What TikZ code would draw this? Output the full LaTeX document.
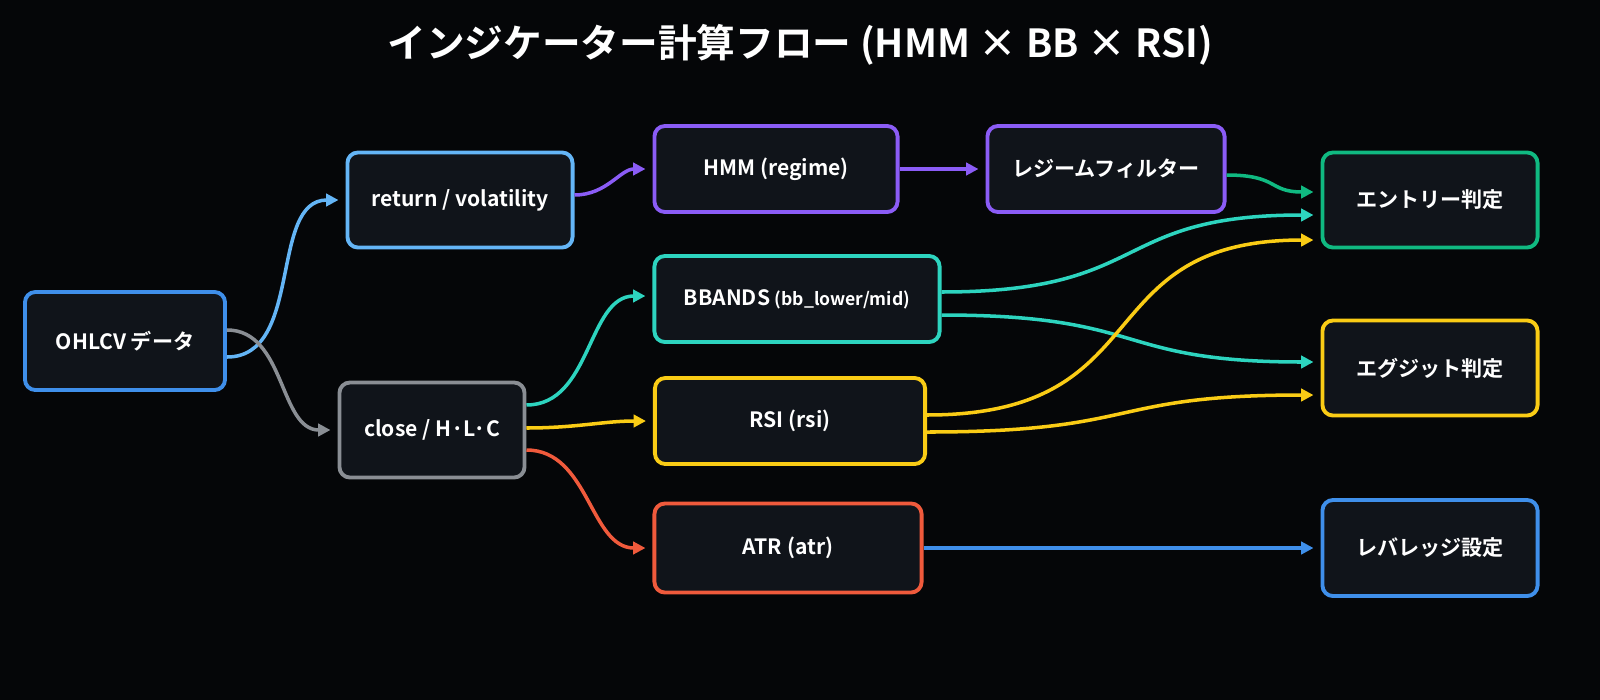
\documentclass[tikz,border=0pt]{standalone}
\usepackage{fontspec}
\setmainfont{Noto Sans CJK JP}[BoldFont={Noto Sans CJK JP Bold}]
\usetikzlibrary{arrows.meta}
\definecolor{bgc}{HTML}{050608}
\definecolor{boxc}{HTML}{10141A}
\definecolor{cblue}{HTML}{3F8FEA}
\definecolor{clight}{HTML}{64B5F6}
\definecolor{cgrey}{HTML}{8A8E94}
\definecolor{cpurple}{HTML}{8B5CF6}
\definecolor{cteal}{HTML}{2DD4BF}
\definecolor{cyellow}{HTML}{FACC15}
\definecolor{cred}{HTML}{F05A3C}
\definecolor{cgreen}{HTML}{10B981}
\tikzset{
  box/.style={draw=#1, line width=1.1pt, rounded corners=3pt, fill=boxc,
    text=white, font=\bfseries\fontsize{6}{7}\selectfont, align=center},
  flow/.style={draw=#1, line width=1pt, -{Triangle[length=3.5pt,width=3.5pt]}, shorten >=2pt},
}
\begin{document}
\begin{tikzpicture}[x=0.01cm,y=-0.01cm]
  \fill[bgc] (0,0) rectangle (1600,700);
  \useasboundingbox (0,0) rectangle (1600,700);

  % title
  \node[text=white, font=\bfseries\fontsize{11}{13}\selectfont] (title) at (800,45)
    {インジケーター計算フロー (HMM × BB × RSI)};

  % first column
  \node[box=cblue, minimum width=2cm, minimum height=0.98cm] (ohlcv) at (125,341) {OHLCV データ};
  % second column
  \node[box=clight, minimum width=2.25cm, minimum height=0.95cm] (ret) at (460,200) {return / volatility};
  \node[box=cgrey, minimum width=1.85cm, minimum height=0.95cm] (close) at (432,430) {close / H·L·C};
  % indicators
  \node[box=cpurple, minimum width=2.43cm, minimum height=0.86cm] (hmm) at (776,169) {HMM (regime)};
  \node[box=cteal, minimum width=2.85cm, minimum height=0.86cm] (bb) at (797,299) {BBANDS {\fontsize{5}{6}\selectfont(bb\_lower/mid)}};
  \node[box=cyellow, minimum width=2.7cm, minimum height=0.86cm] (rsi) at (790,421) {RSI (rsi)};
  \node[box=cred, minimum width=2.67cm, minimum height=0.89cm] (atr) at (788,548) {ATR (atr)};
  \node[box=cpurple, minimum width=2.37cm, minimum height=0.86cm] (filt) at (1106,169) {レジームフィルター};
  % outputs
  \node[box=cgreen, minimum width=2.15cm, minimum height=0.95cm] (entry) at (1430,200) {エントリー判定};
  \node[box=cyellow, minimum width=2.15cm, minimum height=0.95cm] (exit) at (1430,368) {エグジット判定};
  \node[box=cblue, minimum width=2.15cm, minimum height=0.96cm] (lev) at (1430,548) {レバレッジ設定};

  % connectors
  \draw[flow=clight] ([yshift=-0.16cm]ohlcv.east) to[out=0,in=180] (ret.west);
  \draw[flow=cgrey] ([yshift=0.11cm]ohlcv.east) to[out=0,in=180] (close.west);
  \draw[flow=cpurple] ([yshift=0.05cm]ret.east) to[out=0,in=180] (hmm.west);
  \draw[flow=cpurple] (hmm.east) -- (filt.west);
  \draw[flow=cgreen] ([yshift=-0.06cm]filt.east) to[out=0,in=180,looseness=1.4] ([yshift=0.08cm]entry.west);
  \draw[flow=cteal] ([yshift=0.25cm]close.east) to[out=0,in=180] ([yshift=0.03cm]bb.west);
  \draw[flow=cyellow] ([yshift=0.02cm]close.east) to[out=0,in=180] (rsi.west);
  \draw[flow=cred] ([yshift=-0.2cm]close.east) to[out=0,in=180] (atr.west);
  \draw[flow=cteal] ([yshift=0.07cm]bb.east) to[out=0,in=180,looseness=1.4] ([yshift=-0.15cm]entry.west);
  \draw[flow=cteal] ([yshift=-0.16cm]bb.east) to[out=0,in=180,looseness=1.4] ([yshift=0.06cm]exit.west);
  \draw[flow=cyellow] ([yshift=0.06cm]rsi.east) to[out=0,in=180,looseness=1.4] ([yshift=-0.4cm]entry.west);
  \draw[flow=cyellow] ([yshift=-0.11cm]rsi.east) to[out=0,in=180,looseness=1.4] ([yshift=-0.27cm]exit.west);
  \draw[flow=cblue] (atr.east) -- (lev.west);
\end{tikzpicture}
\end{document}
